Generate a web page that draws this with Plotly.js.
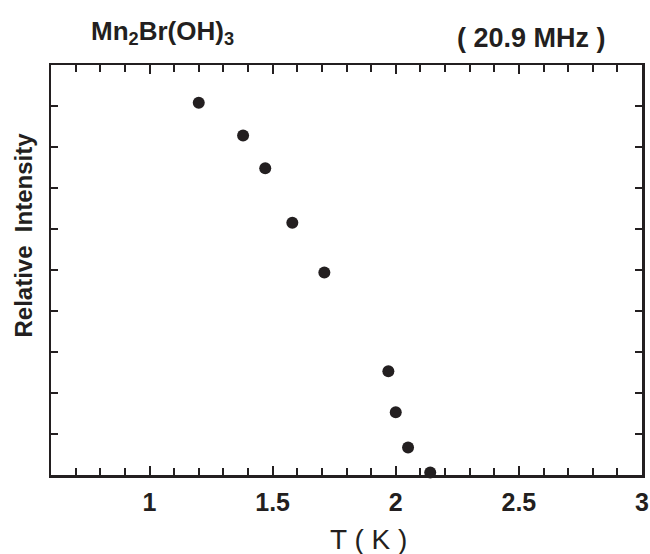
<!DOCTYPE html>
<html>
<head>
<meta charset="utf-8">
<script src="https://cdn.plot.ly/plotly-3.0.1.min.js"></script>
<style>html,body{margin:0;padding:0;background:#fff;}</style>
</head>
<body>
<div id="chart" style="width:650px;height:554px;"></div>
<script>
const temperatureK = [1.20, 1.38, 1.47, 1.58, 1.71, 1.97, 2.00, 2.05, 2.14];
const relativeIntensity = [9.08, 8.28, 7.48, 6.15, 4.94, 2.53, 1.53, 0.67, 0.06];
const xTickValues = [1, 1.5, 2, 2.5, 3];
const xTickLabels = ['1', '1.5', '2', '2.5', '3'];

const font = 'Liberation Sans, Arial, Helvetica, sans-serif';
const ink = '#231f20';

const data = [{
  x: temperatureK,
  y: relativeIntensity,
  type: 'scatter',
  mode: 'markers',
  marker: {color: ink, size: 12},
  cliponaxis: false,
  hoverinfo: 'x+y'
}];

const layout = {
  width: 650, height: 554,
  margin: {l: 51, r: 8, t: 65, b: 79},
  paper_bgcolor: '#fff', plot_bgcolor: '#fff',
  showlegend: false,
  font: {family: font, color: ink},
  xaxis: {
    range: [0.6, 3],
    tickmode: 'array', tickvals: xTickValues, ticktext: xTickLabels,
    ticks: 'inside', ticklen: 9, tickwidth: 2, tickcolor: ink,
    minor: {dtick: 0.1, tick0: 0, ticks: 'inside', ticklen: 7, tickwidth: 2, tickcolor: ink},
    showline: true, linewidth: 2.5, linecolor: ink, mirror: 'allticks',
    showgrid: false, zeroline: false,
    ticklabelstandoff: 3,
    tickfont: {size: 25, color: ink, family: font, weight: 'bold'}
  },
  yaxis: {
    range: [0, 10],
    dtick: 1, tick0: 0,
    ticks: 'inside', ticklen: 7, tickwidth: 2, tickcolor: ink,
    showticklabels: false,
    showline: true, linewidth: 2.5, linecolor: ink, mirror: 'allticks',
    showgrid: false, zeroline: false
  },
  annotations: [
    {text: 'Mn<sub>2</sub>Br(OH)<sub>3</sub>', xref: 'paper', yref: 'paper', x: 0.064, y: 1.08,
     xanchor: 'left', yanchor: 'middle', showarrow: false,
     font: {size: 26, color: ink, family: font, weight: 'bold'}},
    {text: '( 20.9 MHz )', xref: 'paper', yref: 'paper', x: 0.942, y: 1.066,
     xanchor: 'right', yanchor: 'middle', showarrow: false,
     font: {size: 27, color: ink, family: font, weight: 'bold'}},
    {text: 'T ( K )', xref: 'paper', yref: 'paper', x: 0.538, y: -0.157,
     xanchor: 'center', yanchor: 'middle', showarrow: false,
     font: {size: 28, color: ink, family: font}},
    {text: 'Relative  Intensity', xref: 'paper', yref: 'paper', x: -0.046, y: 0.586,
     xanchor: 'center', yanchor: 'middle', textangle: -90, showarrow: false,
     font: {size: 24, color: ink, family: font, weight: 'bold'}}
  ]
};

Plotly.newPlot('chart', data, layout, {displayModeBar: false, staticPlot: true});
</script>
</body>
</html>
